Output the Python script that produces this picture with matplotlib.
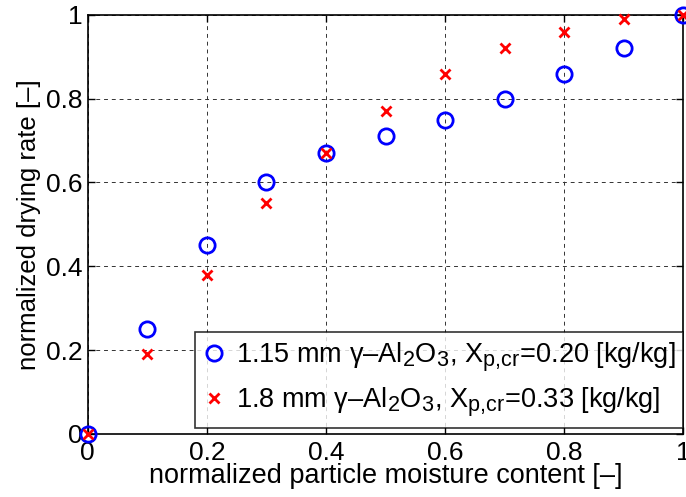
import matplotlib.pyplot as plt
import matplotlib._mathtext as mt

plt.rcParams['font.family'] = ['Liberation Sans', 'DejaVu Sans']
plt.rcParams['mathtext.fontset'] = 'custom'
plt.rcParams['mathtext.rm'] = 'Liberation Sans'
plt.rcParams['mathtext.it'] = 'Liberation Sans'
# slightly larger subscripts
mt.SHRINK_FACTOR = 0.8

# normalized moisture content and drying rate for both particle sizes
x = [0.0, 0.1, 0.2, 0.3, 0.4, 0.5, 0.6, 0.7, 0.8, 0.9, 1.0]
rate_115 = [0.0, 0.25, 0.45, 0.60, 0.67, 0.71, 0.75, 0.80, 0.86, 0.92, 1.0]
rate_18 = [0.0, 0.19, 0.38, 0.55, 0.67, 0.77, 0.86, 0.92, 0.96, 0.99, 1.0]

lbl_115 = r'1.15 mm $\mathrm{\gamma}$–Al$_2$O$_3$, X$_{\mathrm{p{,}cr}}$=0.20 [kg/kg]'
lbl_18 = r'1.8 mm $\mathrm{\gamma}$–Al$_2$O$_3$, X$_{\mathrm{p{,}cr}}$=0.33 [kg/kg]'

fig = plt.figure(figsize=(6.86, 4.97), dpi=100)
ax = fig.add_axes([0.128, 0.127, 0.868, 0.843])

ax.plot(x, rate_115, 'o', mfc='none', mec='#0000ff', mew=2, ms=11,
        label=lbl_115, clip_on=False, zorder=3)
ax.plot(x, rate_18, 'x', color='#ff0000', mew=2, ms=7.5,
        label=lbl_18, clip_on=False, zorder=4)

ax.set_xlim(0, 1)
ax.set_ylim(0, 1)
ax.set_xticks([0, 0.2, 0.4, 0.6, 0.8, 1])
ax.set_yticks([0, 0.2, 0.4, 0.6, 0.8, 1])
ax.set_xticklabels(['0', '0.2', '0.4', '0.6', '0.8', '1'])
ax.set_yticklabels(['0', '0.2', '0.4', '0.6', '0.8', '1'])
ax.tick_params(direction='in', top=True, right=True, labelsize=19,
               length=5, width=1)
ax.tick_params(axis='x', pad=5)
ax.tick_params(axis='y', pad=4)
ax.grid(True, ls=(0, (4, 4)), color='#333333', lw=0.7)
for s in ax.spines.values():
    s.set_linewidth(1.2)

ax.set_xlabel('normalized particle moisture content [–]', fontsize=19.5, labelpad=-1)
ax.set_ylabel('normalized drying rate [–]', fontsize=18.5, labelpad=3)

leg = ax.legend(loc='lower right', fontsize=19.5, frameon=True, fancybox=False,
                edgecolor='black', handlelength=0.8, handletextpad=0.4,
                borderaxespad=0.0, labelspacing=0.45, borderpad=0.3,
                bbox_to_anchor=(1.0, 0.015))
leg.get_frame().set_linewidth(1.2)

fig.savefig('out.png', dpi=100)
